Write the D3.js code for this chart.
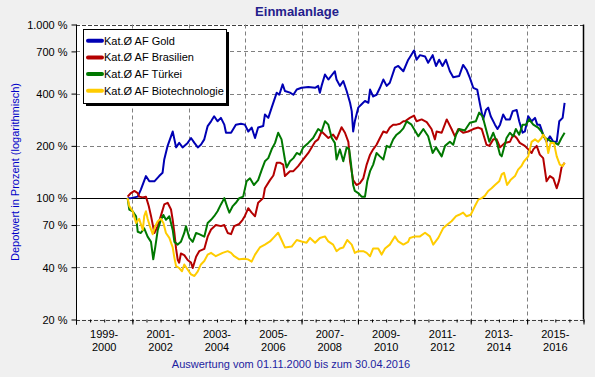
<!DOCTYPE html>
<html><head><meta charset="utf-8">
<script src="https://cdn.jsdelivr.net/npm/d3@7"></script>
<style>
body{margin:0;background:#f0f0f0;}
svg{display:block;font-family:"Liberation Sans",Arial,sans-serif;}
</style></head><body>
<svg id="c" width="595" height="377"></svg>
<script>
const title = "Einmalanlage";
const yAxisTitle = "Depotwert in Prozent (logarithmisch)";
const footer = "Auswertung vom 01.11.2000 bis zum 30.04.2016";
const yTicks = [20, 40, 70, 100, 200, 400, 700, 1000];
const xTicks = [1999, 2001, 2003, 2005, 2007, 2009, 2011, 2013, 2015, 2017];
const periodLabels = [["1999-","2000"],["2001-","2002"],["2003-","2004"],["2005-","2006"],["2007-","2008"],["2009-","2010"],["2011-","2012"],["2013-","2014"],["2015-","2016"]];
const seriesNames = ["Kat.Ø AF Gold","Kat.Ø AF Brasilien","Kat.Ø AF Türkei","Kat.Ø AF Biotechnologie"];
const seriesColors = ["#0000b4","#b40000","#007800","#ffcc00"];

const gold = [[2000.83,100],[2000.95,100],[2001.19,102],[2001.30,112],[2001.48,134],[2001.60,125],[2001.78,125],[2001.95,134],[2002.07,140],[2002.13,167],[2002.25,200],[2002.37,227],[2002.43,242],[2002.49,218],[2002.55,196],[2002.66,208],[2002.78,196],[2002.96,208],[2003.08,222],[2003.20,208],[2003.32,196],[2003.43,203],[2003.55,218],[2003.67,260],[2003.79,277],[2003.90,296],[2004.02,277],[2004.14,290],[2004.26,265],[2004.32,238],[2004.50,238],[2004.67,265],[2004.85,268],[2004.99,265],[2005.11,242],[2005.23,255],[2005.35,222],[2005.46,255],[2005.64,260],[2005.70,303],[2005.82,290],[2005.94,332],[2006.12,405],[2006.21,394],[2006.33,452],[2006.41,414],[2006.59,405],[2006.71,394],[2006.83,422],[2007.00,432],[2007.24,436],[2007.48,432],[2007.59,443],[2007.65,405],[2007.71,443],[2007.83,515],[2007.95,482],[2008.18,538],[2008.24,482],[2008.36,443],[2008.48,473],[2008.60,414],[2008.72,354],[2008.78,317],[2008.83,242],[2008.89,277],[2009.01,332],[2009.13,347],[2009.25,363],[2009.37,354],[2009.43,422],[2009.54,385],[2009.66,394],[2009.78,432],[2009.90,482],[2010.02,443],[2010.13,462],[2010.31,564],[2010.43,577],[2010.61,538],[2010.78,625],[2010.99,709],[2011.08,627],[2011.20,666],[2011.38,655],[2011.49,602],[2011.65,666],[2011.77,577],[2011.88,627],[2012.00,577],[2012.12,627],[2012.26,538],[2012.38,497],[2012.59,505],[2012.73,585],[2012.85,549],[2012.97,493],[2013.09,432],[2013.23,422],[2013.33,347],[2013.44,284],[2013.54,322],[2013.62,332],[2013.71,296],[2013.86,265],[2013.95,250],[2014.04,265],[2014.15,303],[2014.25,284],[2014.39,284],[2014.49,317],[2014.63,322],[2014.72,277],[2014.84,238],[2014.92,242],[2015.04,296],[2015.16,277],[2015.28,290],[2015.36,265],[2015.45,265],[2015.57,232],[2015.69,211],[2015.81,227],[2015.93,211],[2016.05,211],[2016.14,277],[2016.26,290],[2016.33,354]];

const brasilien = [[2000.83,102],[2000.95,107],[2001.07,110],[2001.19,107],[2001.24,102],[2001.37,101],[2001.48,102],[2001.58,90],[2001.66,79],[2001.78,63],[2001.90,69],[2002.01,79],[2002.13,92],[2002.25,94],[2002.37,86],[2002.43,75],[2002.49,63],[2002.55,51],[2002.61,44],[2002.66,42.5],[2002.72,48],[2002.84,47],[2002.96,44],[2003.08,42.5],[2003.14,39.6],[2003.26,46],[2003.37,49.5],[2003.55,51],[2003.67,60],[2003.79,66],[2003.96,70],[2004.14,69],[2004.26,70],[2004.38,63],[2004.50,62],[2004.61,69],[2004.79,71],[2004.91,75],[2004.99,79],[2005.11,87.5],[2005.23,82.5],[2005.35,78.7],[2005.46,94],[2005.64,100],[2005.70,114],[2005.88,127],[2006.00,135],[2006.12,160],[2006.23,160],[2006.35,156],[2006.41,134],[2006.59,143],[2006.71,143],[2006.88,153],[2007.06,167],[2007.24,182],[2007.48,211],[2007.59,218],[2007.71,242],[2007.83,232],[2007.95,222],[2008.12,232],[2008.24,218],[2008.42,256],[2008.54,238],[2008.66,211],[2008.72,163],[2008.83,127],[2008.95,119],[2009.07,122],[2009.19,130],[2009.31,156],[2009.43,178],[2009.54,191],[2009.66,203],[2009.78,222],[2009.90,242],[2010.02,238],[2010.13,255],[2010.25,265],[2010.37,265],[2010.49,268],[2010.61,277],[2010.67,277],[2010.84,290],[2010.99,299],[2011.08,277],[2011.26,284],[2011.44,274],[2011.61,250],[2011.73,218],[2011.79,242],[2011.97,238],[2012.15,284],[2012.32,250],[2012.44,227],[2012.56,250],[2012.73,238],[2012.91,242],[2013.09,250],[2013.27,255],[2013.39,250],[2013.56,203],[2013.66,200],[2013.80,218],[2013.92,218],[2014.04,196],[2014.21,208],[2014.39,211],[2014.51,232],[2014.63,222],[2014.74,208],[2014.92,200],[2015.04,191],[2015.16,182],[2015.22,191],[2015.34,200],[2015.45,178],[2015.57,170],[2015.69,125],[2015.81,134],[2015.93,130],[2016.05,114],[2016.14,127],[2016.22,150],[2016.33,160]];

const tuerkei = [[2000.83,100],[2000.89,86],[2001.01,84],[2001.13,78.7],[2001.19,64],[2001.30,63],[2001.42,67],[2001.54,60],[2001.66,56],[2001.74,44.4],[2001.81,52],[2001.90,65.6],[2002.01,75],[2002.10,80],[2002.19,75],[2002.31,78.7],[2002.43,65.6],[2002.49,56],[2002.61,54],[2002.72,56],[2002.84,63],[2002.90,69],[2003.02,59],[2003.14,56],[2003.26,63],[2003.37,62],[2003.55,60],[2003.67,72],[2003.79,75],[2003.90,78.7],[2004.02,84],[2004.14,92],[2004.26,100],[2004.38,87.5],[2004.44,82.5],[2004.56,90],[2004.67,94],[2004.79,100],[2004.93,102],[2005.05,125],[2005.17,130],[2005.31,119],[2005.46,127],[2005.59,146],[2005.70,163],[2005.82,170],[2005.94,191],[2006.06,208],[2006.17,238],[2006.29,218],[2006.41,167],[2006.47,150],[2006.59,163],[2006.71,170],[2006.83,182],[2006.94,178],[2007.06,196],[2007.24,208],[2007.41,222],[2007.59,250],[2007.71,242],[2007.83,277],[2007.95,265],[2008.07,222],[2008.18,208],[2008.24,167],[2008.36,191],[2008.48,163],[2008.60,196],[2008.69,191],[2008.75,160],[2008.83,119],[2008.89,110],[2009.01,107],[2009.13,102],[2009.25,102],[2009.33,125],[2009.43,143],[2009.54,156],[2009.66,182],[2009.78,174],[2009.90,167],[2010.02,200],[2010.13,196],[2010.25,218],[2010.37,232],[2010.49,240],[2010.61,252],[2010.73,277],[2010.90,265],[2011.14,227],[2011.32,250],[2011.49,227],[2011.65,182],[2011.77,196],[2011.97,174],[2012.09,200],[2012.26,211],[2012.38,203],[2012.48,232],[2012.59,250],[2012.79,245],[2012.97,272],[2013.18,277],[2013.30,311],[2013.42,296],[2013.54,250],[2013.66,211],[2013.80,238],[2013.92,211],[2014.04,178],[2014.10,174],[2014.21,203],[2014.27,222],[2014.39,238],[2014.51,227],[2014.60,250],[2014.72,232],[2014.84,265],[2014.96,265],[2015.07,284],[2015.22,265],[2015.39,255],[2015.51,242],[2015.63,222],[2015.75,218],[2015.87,211],[2015.99,208],[2016.10,203],[2016.22,222],[2016.33,238]];

const biotech = [[2000.83,100],[2000.89,90],[2001.01,84],[2001.13,72],[2001.24,76],[2001.37,65.6],[2001.42,78.7],[2001.48,84],[2001.54,76],[2001.62,69],[2001.72,62],[2001.81,69],[2001.90,73.6],[2002.01,76],[2002.10,72],[2002.19,63],[2002.31,59],[2002.43,52],[2002.49,45.3],[2002.55,40.6],[2002.66,39.6],[2002.76,37.9],[2002.84,41.5],[2002.96,38.8],[2003.08,36.4],[2003.20,35.6],[2003.32,37.9],[2003.43,41.5],[2003.55,43.4],[2003.67,47.3],[2003.79,48.4],[2003.96,46.3],[2004.20,48.4],[2004.38,49.5],[2004.50,48.4],[2004.61,46.3],[2004.79,44.4],[2004.97,44.8],[2005.10,44.4],[2005.23,43.1],[2005.35,47.3],[2005.52,52],[2005.70,54],[2005.88,56.3],[2006.00,59],[2006.17,63.2],[2006.29,57.4],[2006.41,52],[2006.65,52.6],[2006.83,57.4],[2007.00,56.3],[2007.18,55.4],[2007.30,59],[2007.48,55.4],[2007.65,59],[2007.83,60.2],[2007.95,56.3],[2008.12,54],[2008.24,49.5],[2008.36,51.3],[2008.48,52],[2008.62,57.4],[2008.78,54],[2008.89,48.4],[2009.01,49.5],[2009.19,49.5],[2009.31,48.4],[2009.43,46.3],[2009.54,51.3],[2009.72,51.3],[2009.84,47.3],[2009.96,51.3],[2010.13,54],[2010.31,60.2],[2010.43,56.3],[2010.61,54],[2010.78,56],[2010.84,59],[2011.02,60.2],[2011.20,60.2],[2011.38,63.2],[2011.55,60.2],[2011.67,54],[2011.85,59],[2012.02,67],[2012.15,70],[2012.32,73.6],[2012.48,78.7],[2012.59,80.2],[2012.73,82.5],[2012.85,78.7],[2013.00,80.2],[2013.15,90],[2013.27,98],[2013.39,100],[2013.50,103],[2013.62,110],[2013.74,114],[2013.86,119],[2014.01,125],[2014.10,137],[2014.18,140],[2014.29,119],[2014.41,127],[2014.57,134],[2014.68,146],[2014.80,153],[2014.89,163],[2015.04,174],[2015.16,211],[2015.28,218],[2015.39,211],[2015.51,222],[2015.57,232],[2015.67,218],[2015.75,182],[2015.83,208],[2015.95,208],[2016.05,174],[2016.16,156],[2016.26,153],[2016.33,160]];

const allSeries = [gold, brasilien, tuerkei, biotech];

const svg = d3.select("#c");
const L = 76, R = 583.5, T = 24.5, B = 319.5;
const x = d3.scaleLinear().domain([1999, 2017]).range([L, R]);
const y = d3.scaleLog().domain([20, 1000]).range([B, T]);
const font = '"Liberation Sans",Arial,sans-serif';

svg.append("rect").attr("width",595).attr("height",377).attr("fill","#f0f0f0");
svg.append("rect").attr("x",L).attr("y",T).attr("width",R-L).attr("height",B-T).attr("fill","#fff");

// horizontal grid
svg.append("g").selectAll("line").data(yTicks.filter(v => v!==100 && v!==20 && v!==1000)).join("line")
  .attr("x1",L).attr("x2",R).attr("y1",d=>Math.round(y(d))+0.5).attr("y2",d=>Math.round(y(d))+0.5)
  .attr("stroke","#808080").attr("stroke-dasharray","4,3");
// top & bottom dashed edges
[1000,20].forEach(v=>{
  svg.append("line").attr("x1",L).attr("x2",R).attr("y1",Math.round(y(v))+0.5).attr("y2",Math.round(y(v))+0.5)
    .attr("stroke","#404040").attr("stroke-dasharray","4,2");
});
// vertical grid
svg.append("g").selectAll("line").data(xTicks.slice(1,-1)).join("line")
  .attr("x1",d=>Math.round(x(d))+0.5).attr("x2",d=>Math.round(x(d))+0.5).attr("y1",T).attr("y2",B)
  .attr("stroke","#808080").attr("stroke-dasharray","4,3");
// 100% line
svg.append("line").attr("x1",L).attr("x2",R).attr("y1",Math.round(y(100))+0.5).attr("y2",Math.round(y(100))+0.5)
  .attr("stroke","#000").attr("stroke-width",1.2);

// series lines
const line = d3.line().x(d=>x(d[0])).y(d=>y(d[1]));
allSeries.forEach((s,i)=>{
  svg.append("path").datum(s).attr("d",line).attr("fill","none")
    .attr("stroke",seriesColors[i]).attr("stroke-width",2).attr("stroke-linejoin","round");
});

// borders left & right
svg.append("line").attr("x1",L+0.5).attr("x2",L+0.5).attr("y1",T).attr("y2",B+5).attr("stroke","#000");
svg.append("line").attr("x1",R).attr("x2",R).attr("y1",T).attr("y2",B).attr("stroke","#000").attr("stroke-width",1.5);

// y axis
const yAxis = d3.axisLeft(y).tickValues(yTicks).tickSize(5).tickPadding(4)
  .tickFormat(d => d3.format(",")(d).replace(",",".") + " %");
const gy = svg.append("g").attr("transform",`translate(${L+0.5},0)`).call(yAxis);
gy.select(".domain").remove();
gy.selectAll("text").attr("font-family",font).attr("font-size",11).attr("fill","#000").attr("dy","0.35em");

// x axis
const xAxisMinor = d3.axisBottom(x).tickValues(d3.range(1999,2017.01,0.5)).tickSize(3).tickFormat("");
const gxm = svg.append("g").attr("transform",`translate(0,${B})`).call(xAxisMinor);
gxm.select(".domain").remove();
const xAxis = d3.axisBottom(x).tickValues(xTicks).tickSize(5).tickFormat("");
const gx = svg.append("g").attr("transform",`translate(0,${B})`).call(xAxis);
gx.select(".domain").remove();

// period labels
const lbl = svg.append("g").attr("font-family",font).attr("font-size",11).attr("fill","#000").attr("text-anchor","middle");
periodLabels.forEach((p,i)=>{
  const cx = (x(xTicks[i])+x(xTicks[i+1]))/2;
  lbl.append("text").attr("x",cx).attr("y",337.5).text(p[0]);
  lbl.append("text").attr("x",cx).attr("y",350.5).text(p[1]);
});

// title, axis title, footer
svg.append("text").attr("x",297).attr("y",16).attr("text-anchor","middle").attr("font-family",font)
  .attr("font-weight","bold").attr("font-size",13).attr("fill","#24208c").text(title);
svg.append("text").attr("transform","translate(19,172) rotate(-90)").attr("text-anchor","middle")
  .attr("font-family",font).attr("font-size",11).attr("fill","#0000c8").text(yAxisTitle);
svg.append("text").attr("x",291).attr("y",368).attr("text-anchor","middle").attr("font-family",font)
  .attr("font-size",11).attr("fill","#1e1ea0").text(footer);

// legend
const lg = svg.append("g");
lg.append("rect").attr("x",86).attr("y",32).attr("width",143).attr("height",74).attr("fill","#000");
lg.append("rect").attr("x",83.5).attr("y",29.5).attr("width",143).attr("height",74).attr("fill","#fff").attr("stroke","#000");
seriesNames.forEach((n,i)=>{
  const yy = 40.7 + i*16.7;
  lg.append("line").attr("x1",88).attr("x2",102).attr("y1",yy).attr("y2",yy)
    .attr("stroke",seriesColors[i]).attr("stroke-width",4).attr("stroke-linecap","round");
  lg.append("text").attr("x",104).attr("y",yy+4).attr("font-family",font).attr("font-size",11)
    .attr("fill","#000").text(n);
});
</script></body></html>
